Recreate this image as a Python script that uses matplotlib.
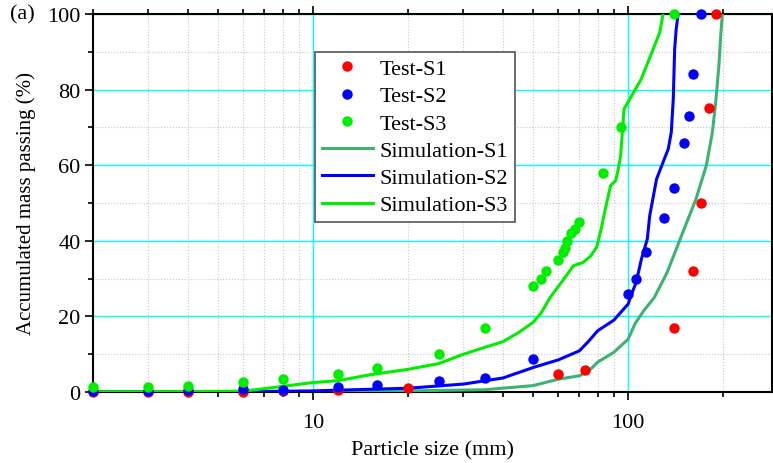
import matplotlib
matplotlib.use("Agg")
import matplotlib.pyplot as plt
from matplotlib.ticker import LogLocator, NullFormatter, FixedLocator, FuncFormatter

plt.rcParams['font.family'] = ['Liberation Serif', 'DejaVu Serif']
plt.rcParams['mathtext.fontset'] = 'stix'

# Test data
test_s1_x = [2, 3, 4, 6, 8, 12, 20, 60, 73, 140, 160, 170, 180, 190]
test_s1_y = [0, 0, 0, 0.1, 0.3, 0.6, 1.1, 4.8, 5.9, 17, 32, 50, 75, 100]

test_s2_x = [2, 3, 4, 6, 8, 12, 16, 25, 35, 50, 100, 106, 114, 130, 140, 150, 156, 160, 170]
test_s2_y = [0.2, 0.3, 0.4, 0.8, 0.6, 1.4, 1.9, 3.0, 3.7, 8.7, 26, 30, 37, 46, 54, 66, 73, 84, 100]

test_s3_x = [2, 3, 4, 6, 8, 12, 16, 25, 35, 50, 53, 55, 60, 62, 63, 64, 66, 68, 70, 83, 95, 140]
test_s3_y = [1.3, 1.4, 1.5, 2.6, 3.5, 4.8, 6.3, 10, 17, 28, 30, 32, 35, 37, 38, 40, 42, 43, 45, 58, 70, 100]

# Simulation curves
sim_s1_x = [2, 10, 15, 20, 35, 50, 60, 70, 75, 80, 90, 100, 105, 112, 121, 133, 149, 164, 177, 185, 190, 194, 197, 199]
sim_s1_y = [0, 0, 0.1, 0.3, 0.6, 1.7, 3.4, 4.3, 5.6, 7.9, 10.5, 14, 18, 21.5, 25, 31.7, 42.2, 51, 59.9, 68.7, 77.5, 86.3, 95.2, 100]

sim_s2_x = [2, 6, 10, 20, 30, 40, 50, 60, 70, 75, 80, 90, 100, 102, 106, 110, 115, 117, 123, 130, 134, 137, 139, 140.4, 142, 144]
sim_s2_y = [0, 0.1, 0.3, 1.0, 2.1, 3.7, 6.5, 8.5, 10.9, 13.5, 16.2, 19, 23.3, 25.5, 29, 35, 40.5, 46.6, 56.3, 61.5, 64.3, 68.7, 77.5, 90.7, 96, 100]

sim_s3_x = [2, 6, 8, 10, 12, 15, 20, 25, 30, 35, 40, 45, 50, 53, 56.5, 62, 67, 72, 76, 79.4, 82, 84.6, 87.9, 91.2, 93, 94.6, 95.8, 97, 102, 110, 120, 126, 129]
sim_s3_y = [0, 0.2, 1.5, 2.5, 3.0, 4.5, 6.0, 7.5, 10, 11.8, 13.3, 15.8, 18.5, 21, 25, 29.5, 33.4, 34.3, 36, 38.3, 43, 48.4, 54.6, 55.9, 59, 62.5, 68.7, 74.9, 78, 82.8, 90.7, 95.2, 100]

fig = plt.figure(figsize=(7.73, 4.64), dpi=100)
ax = fig.add_axes([0.1203, 0.153, 0.8787, 0.8147])

ax.plot(sim_s1_x, sim_s1_y, color='#3cb371', lw=2.2, label='Simulation-S1', zorder=3)
ax.plot(sim_s2_x, sim_s2_y, color='#0000ff', lw=2.2, label='Simulation-S2', zorder=3)
ax.plot(sim_s3_x, sim_s3_y, color='#00ee00', lw=2.2, label='Simulation-S3', zorder=3)

ax.plot(test_s1_x, test_s1_y, 'o', color='#ff0000', ms=7.5, mec='none', label='Test-S1', zorder=4, clip_on=False)
ax.plot(test_s2_x, test_s2_y, 'o', color='#0000ff', ms=7.5, mec='none', label='Test-S2', zorder=5, clip_on=False)
ax.plot(test_s3_x, test_s3_y, 'o', color='#00ee00', ms=7.5, mec='none', label='Test-S3', zorder=6, clip_on=False)

ax.set_xscale('log')
xmax = 10 ** (2 + (772 - 628) / 315)
ax.set_xlim(2, xmax)
ax.set_ylim(0, 100)

ax.xaxis.set_major_locator(FixedLocator([10, 100]))
ax.xaxis.set_major_formatter(FuncFormatter(lambda v, p: f"{int(v)}"))
ax.xaxis.set_minor_locator(LogLocator(base=10, subs=[2, 3, 4, 5, 6, 7, 8, 9], numticks=20))
ax.xaxis.set_minor_formatter(NullFormatter())
ax.yaxis.set_major_locator(FixedLocator([0, 20, 40, 60, 80, 100]))
ax.yaxis.set_minor_locator(FixedLocator([10, 30, 50, 70, 90]))

ax.grid(True, which='major', color='#00ffff', lw=1.0, ls='-', zorder=0)
ax.grid(True, which='minor', color='#c8c8c8', lw=0.8, ls=':', zorder=0)
ax.set_axisbelow(True)

ax.tick_params(which='both', direction='out', top=True, right=True, labelsize=16, width=1.2)
ax.tick_params(which='major', length=6, pad=3)
ax.tick_params(which='minor', length=3.5)
ax.tick_params(axis='x', which='major', pad=9)
for s in ax.spines.values():
    s.set_linewidth(1.5)

ax.set_xlabel('Particle size (mm)', fontsize=16, labelpad=6)
ax.set_ylabel('Accumulated mass passing (%)', fontsize=15, labelpad=8)

fig.text(0.013, 0.968, '(a)', fontsize=16, va='center', ha='left')

handles, labels = ax.get_legend_handles_labels()
order = [3, 4, 5, 0, 1, 2]
leg = ax.legend([handles[i] for i in order], [labels[i] for i in order],
                loc='upper left', bbox_to_anchor=(0.327, 0.8995), fontsize=16,
                frameon=True, fancybox=False, edgecolor='#555555', framealpha=1,
                handlelength=2.3, handletextpad=0.3, borderpad=0.3, labelspacing=0.3,
                borderaxespad=0)
leg.get_frame().set_linewidth(1.2)

fig.savefig('out.png', dpi=100)
